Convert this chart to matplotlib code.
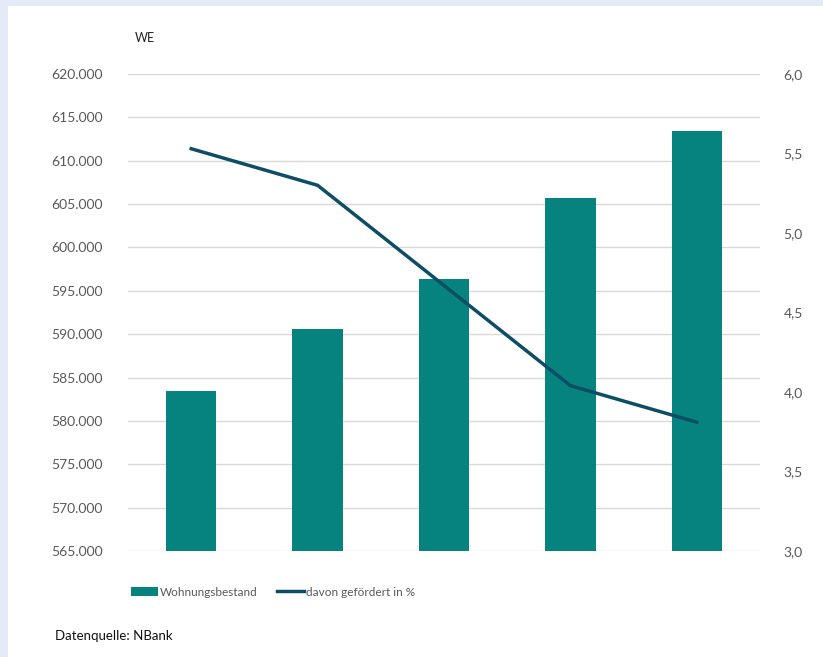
import matplotlib
matplotlib.use("Agg")
import matplotlib.pyplot as plt
from matplotlib.patches import Rectangle
from matplotlib.ticker import FuncFormatter, MultipleLocator

plt.rcParams['font.family'] = ['Lato', 'DejaVu Sans']

categories = ["2015", "2016", "2017", "2018", "2019"]
bestand = [583400, 590600, 596400, 605700, 613400]
gefoerdert = [5.53, 5.30, 4.67, 4.04, 3.81]

W, H = 823, 657
fig = plt.figure(figsize=(W / 100, H / 100), dpi=100)
fig.patch.set_facecolor('#e4eaf7')
fig.patches.append(Rectangle((8 / W, 0), 1 - 8 / W, 1 - 6 / H, transform=fig.transFigure,
                             facecolor='white', edgecolor='none', zorder=-5))

left, right, top, bottom = 128, 760, 74, 551
ax = fig.add_axes([left / W, 1 - bottom / H, (right - left) / W, (bottom - top) / H])
ax.set_facecolor('none')
x = list(range(len(categories)))
bar_color = '#07837f'
ax.bar(x, bestand, width=0.4, color=bar_color, zorder=3, label='Wohnungsbestand')
ax.set_ylim(565000, 620000)
ax.set_xlim(-0.5, len(categories) - 0.5)
ax.yaxis.set_major_locator(MultipleLocator(5000))
ax.yaxis.set_major_formatter(FuncFormatter(lambda v, p: f"{int(round(v)):,}".replace(',', '.')))
ax.grid(axis='y', color='#d9d9d9', linewidth=1, zorder=0)
ax.set_xticks([])
for s in ax.spines.values():
    s.set_visible(False)
ax.tick_params(axis='y', length=0, pad=18, labelsize=10, labelcolor='#595959')

ax2 = ax.twinx()
ax2.plot(x, gefoerdert, color='#0d4e66', linewidth=2.5, zorder=4, label='davon gefördert in %')
ax2.set_ylim(3.0, 6.0)
ax2.yaxis.set_major_locator(MultipleLocator(0.5))
ax2.yaxis.set_major_formatter(FuncFormatter(lambda v, p: f"{v:.1f}".replace('.', ',')))
for s in ax2.spines.values():
    s.set_visible(False)
ax2.tick_params(axis='y', length=0, pad=17, labelsize=10, labelcolor='#595959')

fig.text(135 / W, 1 - 38 / H, "WE", fontsize=9, color='#222222', va='center', ha='left')
fig.text(55 / W, 1 - 636 / H, "Datenquelle: NBank", fontsize=9.5, color='#111111', va='center', ha='left')

h1, l1 = ax.get_legend_handles_labels()
h2, l2 = ax2.get_legend_handles_labels()
fig.legend(h1 + h2, l1 + l2, loc='center', bbox_to_anchor=(273 / W, 1 - 592 / H), ncol=2,
           frameon=False, fontsize=8.5, labelcolor='#595959', handlelength=2.3, handleheight=0.7,
           handletextpad=0.2, columnspacing=1.6)

fig.savefig('out.png', dpi=100, facecolor=fig.get_facecolor())
